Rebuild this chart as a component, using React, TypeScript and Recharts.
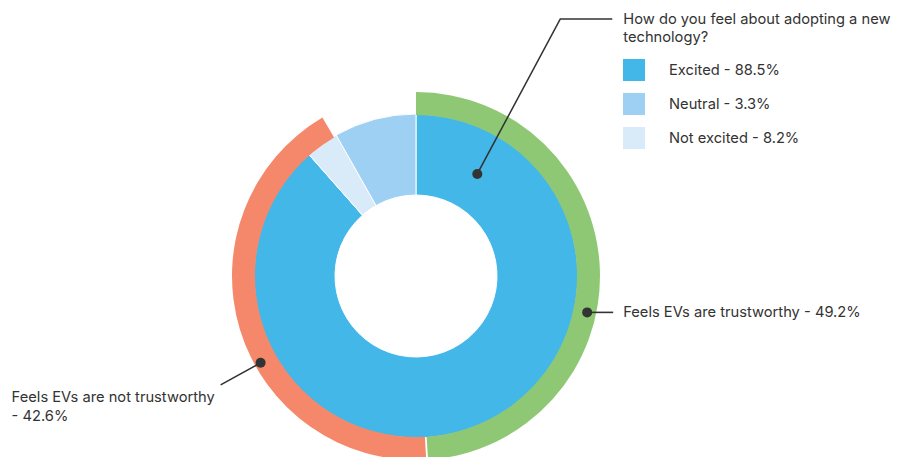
import { Cell, Legend, Pie, PieChart } from "recharts";

// inner ring, in drawing order (clockwise from 12 o'clock)
const techLabels = ["Excited", "Neutral", "Not excited"];
const techValues = [88.5, 3.3, 8.2];
const techSliceColors = ["#42b7e8", "#d9ebf9", "#9dd0f3"];
const legendColors = ["#42b7e8", "#9dd0f3", "#d9ebf9"];

// outer ring, last slice is the empty remainder
const trustLabels = ["Feels EVs are trustworthy", "Feels EVs are not trustworthy", ""];
const trustValues = [49.2, 42.6, 8.2];
const trustColors = ["#8fc874", "#f5886b", "none"];

const techData = techLabels.map((name, i) => ({ name, value: techValues[i] }));
const trustData = trustLabels.map((name, i) => ({ name: name || "rest", value: trustValues[i] }));

const TEXT = "#333333";
const FONT = "Inter, 'Noto Sans', sans-serif";
const FS = 14.7;

// clockwise angle from 12 o'clock
const polar = (cx: number, cy: number, r: number, deg: number) => {
  const rad = (deg * Math.PI) / 180;
  return { x: cx + r * Math.sin(rad), y: cy - r * Math.cos(rad) };
};

const renderTechLabel = (props: any) => {
  const { cx, cy, index } = props;
  if (index !== 0) return null;
  const p = polar(cx, cy, 119, 31);
  const ex = p.x + 83;
  const ey = p.y - 155;
  return (
    <g>
      <polyline
        points={`${p.x},${p.y} ${ex},${ey} ${ex + 52},${ey}`}
        fill="none"
        stroke={TEXT}
        strokeWidth={1.6}
      />
      <circle cx={p.x} cy={p.y} r={5} fill={TEXT} />
      <text x={ex + 63} y={ey} fill={TEXT} fontSize={FS} fontFamily={FONT} dominantBaseline="central">
        How do you feel about adopting a new
      </text>
      <text x={ex + 63} y={ey + 18} fill={TEXT} fontSize={FS} fontFamily={FONT} dominantBaseline="central">
        technology?
      </text>
    </g>
  );
};

const renderTrustLabel = (props: any) => {
  const { cx, cy, index } = props;
  if (index === 0) {
    const p = polar(cx, cy, 175, 102);
    return (
      <g>
        <line x1={p.x} y1={p.y} x2={p.x + 26} y2={p.y} stroke={TEXT} strokeWidth={1.6} />
        <circle cx={p.x} cy={p.y} r={5} fill={TEXT} />
        <text x={p.x + 36} y={p.y} fill={TEXT} fontSize={FS} fontFamily={FONT} dominantBaseline="central">
          {`${trustLabels[0]} - ${trustValues[0]}%`}
        </text>
      </g>
    );
  }
  if (index === 1) {
    const p = polar(cx, cy, 178, 240.8);
    return (
      <g>
        <line x1={p.x} y1={p.y} x2={p.x - 40} y2={p.y + 22} stroke={TEXT} strokeWidth={1.6} />
        <circle cx={p.x} cy={p.y} r={5} fill={TEXT} />
        <text x={p.x - 249} y={p.y + 34} fill={TEXT} fontSize={FS} fontFamily={FONT} dominantBaseline="central">
          {trustLabels[1]}
        </text>
        <text x={p.x - 249} y={p.y + 53} fill={TEXT} fontSize={FS} fontFamily={FONT} dominantBaseline="central">
          {`- ${trustValues[1]}%`}
        </text>
      </g>
    );
  }
  return null;
};

const renderLegend = () => (
  <div style={{ fontFamily: FONT, fontSize: FS, color: TEXT }}>
    {techLabels.map((name, i) => (
      <div key={name} style={{ display: "flex", alignItems: "center", height: 22, marginBottom: 12 }}>
        <span style={{ width: 22, height: 22, background: legendColors[i], display: "inline-block" }} />
        <span style={{ marginLeft: 24 }}>{`${name} - ${techValues[i]}%`}</span>
      </div>
    ))}
  </div>
);

export default function App() {
  return (
    <div style={{ position: "absolute", left: 0, top: 0, width: 897, height: 457, background: "#fff" }}>
      <PieChart width={897} height={457} margin={{ top: 0, right: 0, bottom: 0, left: 0 }}>
        <Pie
          data={techData}
          dataKey="value"
          nameKey="name"
          cx={416}
          cy={276}
          innerRadius={81}
          outerRadius={162}
          startAngle={90}
          endAngle={-270}
          stroke="#ffffff"
          strokeWidth={1}
          label={renderTechLabel}
          labelLine={false}
          isAnimationActive={false}
        >
          {techData.map((d, i) => (
            <Cell key={d.name} fill={techSliceColors[i]} />
          ))}
        </Pie>
        <Pie
          data={trustData}
          dataKey="value"
          nameKey="name"
          cx={416}
          cy={276}
          innerRadius={161}
          outerRadius={184}
          startAngle={90}
          endAngle={-270}
          paddingAngle={0.6}
          stroke="none"
          label={renderTrustLabel}
          labelLine={false}
          isAnimationActive={false}
        >
          {trustData.map((d, i) => (
            <Cell key={d.name} fill={trustColors[i]} />
          ))}
        </Pie>
        <Legend
          content={renderLegend}
          wrapperStyle={{ position: "absolute", top: 59, left: 623, width: 260, bottom: "auto" }}
        />
      </PieChart>
    </div>
  );
}
